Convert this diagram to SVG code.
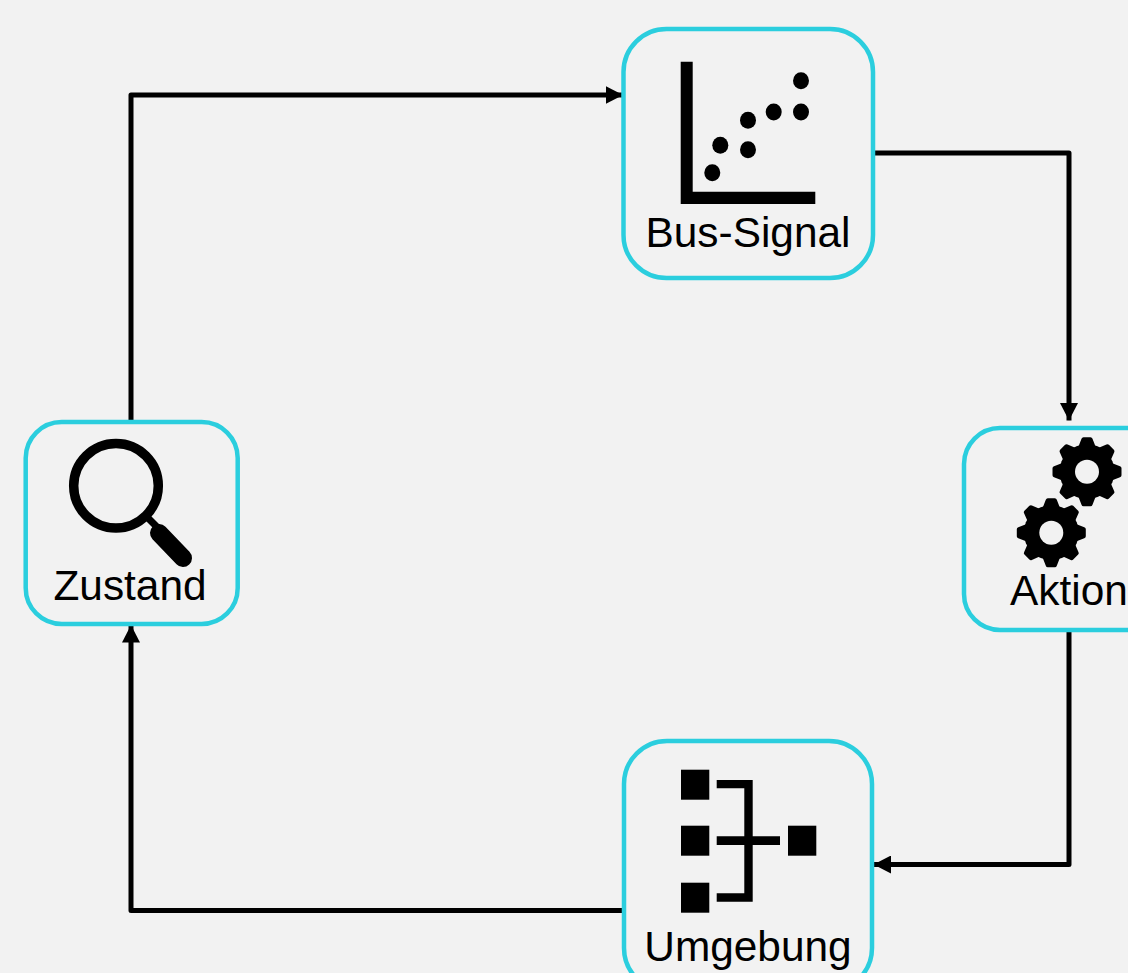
<svg xmlns="http://www.w3.org/2000/svg" width="1128" height="973" viewBox="0 0 1128 973">
<style>
.box{fill:#f2f2f2;stroke:#2bcede;stroke-width:4.5}
.lbl{font-family:"Liberation Sans",Arial,sans-serif;font-size:42.4px;fill:#000;text-anchor:middle}
.conn{fill:none;stroke:#000;stroke-width:5;stroke-linejoin:round}
</style>
<defs>
<marker id="arrow" viewBox="0 0 17.5 18" refX="17.5" refY="9" markerUnits="userSpaceOnUse" markerWidth="17.5" markerHeight="18" orient="auto"><path d="M0 0L17.500 9L0 18Z" fill="#000"/></marker>
<g id="tooth"><path d="M-9 -24L-5.500 -33Q-5 -34.500 -3.500 -34.500L3.500 -34.500Q5 -34.500 5.500 -33L9 -24Z"/></g>
<g id="gear">
<circle r="27.500"/>
<use href="#tooth"/><use href="#tooth" transform="rotate(45)"/><use href="#tooth" transform="rotate(90)"/><use href="#tooth" transform="rotate(135)"/><use href="#tooth" transform="rotate(180)"/><use href="#tooth" transform="rotate(225)"/><use href="#tooth" transform="rotate(270)"/><use href="#tooth" transform="rotate(315)"/>
<circle r="12" fill="#f2f2f2"/>
</g>
</defs>
<rect width="1128" height="973" fill="#f2f2f2"/>
<g id="connectors">
<path class="conn" marker-end="url(#arrow)" d="M131 422V95H623"/>
<path class="conn" marker-end="url(#arrow)" d="M873 153H1069V420.500"/>
<path class="conn" marker-end="url(#arrow)" d="M1069 630V864.500H873.500"/>
<path class="conn" marker-end="url(#arrow)" d="M624 910.500H131V625"/>
</g>
<g id="bus-signal">
<rect class="box" x="623.500" y="29" width="249.500" height="249" rx="43"/>
<path d="M680.700 61.700H692.700V191.700H815.300V204H680.700Z"/>
<ellipse cx="801" cy="80.700" rx="8" ry="8.500"/><ellipse cx="801" cy="112" rx="8" ry="8.500"/><ellipse cx="773.700" cy="112" rx="8" ry="8.500"/><ellipse cx="748" cy="120.300" rx="8" ry="8.500"/><ellipse cx="720.300" cy="145.300" rx="8" ry="8.500"/><ellipse cx="748" cy="149.700" rx="8" ry="8.500"/><ellipse cx="712.300" cy="172.700" rx="8" ry="8.500"/>
<text class="lbl" x="748" y="247">Bus-Signal</text>
</g>
<g id="aktion">
<rect class="box" x="964" y="428" width="212" height="202" rx="36"/>
<use href="#gear" x="1087" y="471.700"/>
<use href="#gear" x="1051.300" y="532.700"/>
<text class="lbl" x="1069" y="605">Aktion</text>
</g>
<g id="umgebung">
<rect class="box" x="624" y="741" width="248" height="250" rx="43"/>
<rect x="681" y="769.700" width="28.300" height="30"/><rect x="681" y="825.700" width="28.300" height="30"/><rect x="681" y="882.700" width="28.300" height="30"/><rect x="788" y="825.700" width="28.300" height="30"/>
<path d="M716.700 780H752.700V836.300H780V845H752.700V901.700H716.700V893.300H744.300V845H716.700V836.300H744.300V788.300H716.700Z"/>
<text class="lbl" x="748" y="961">Umgebung</text>
</g>
<g id="zustand">
<rect class="box" x="25.700" y="422" width="212" height="202" rx="36"/>
<circle cx="116" cy="485.700" r="42.300" fill="none" stroke="#000" stroke-width="9.500"/>
<path d="M147 517L158 528" stroke="#000" stroke-width="7" fill="none"/>
<path d="M159 533L183 558" stroke="#000" stroke-width="18" stroke-linecap="round" fill="none"/>
<text class="lbl" x="130" y="600">Zustand</text>
</g>
</svg>
